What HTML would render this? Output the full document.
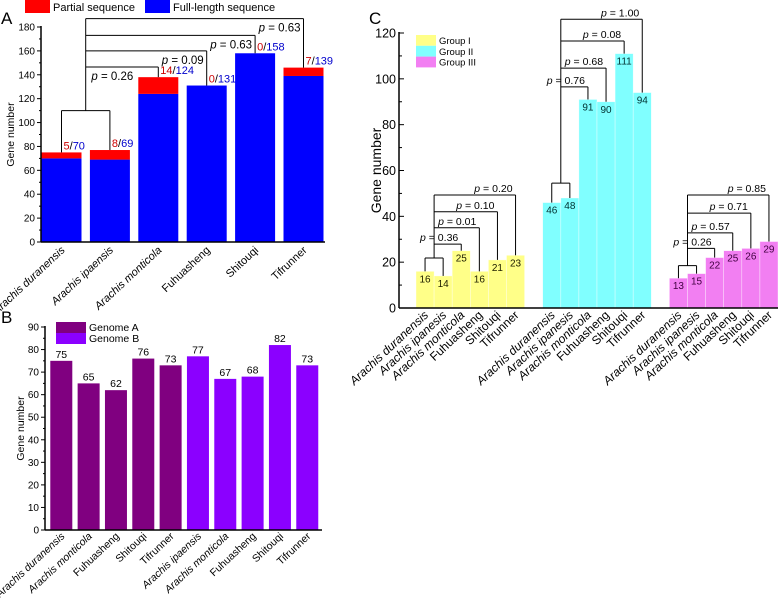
<!DOCTYPE html>
<html><head><meta charset="utf-8"><style>
html,body{margin:0;padding:0;background:#fff}
svg{display:block;font-family:"Liberation Sans",Arial,sans-serif}
</style></head><body>
<svg id="fig" width="778" height="600" viewBox="0 0 778 600" xmlns="http://www.w3.org/2000/svg"></svg>
<script>
// ---------- Panel A data ----------
const aCats = ["Arachis duranensis","Arachis ipaensis","Arachis monticola","Fuhuasheng","Shitouqi","Tifrunner"];
const aFull = [70,69,124,131,158,139];
const aPartial = [5,8,14,0,0,7];
const aTicks = [0,20,40,60,80,100,120,140,160,180];
const aPairVal = 110;
const aBracketVals = [146.5,160,173,187];
const aPLabels = ["p = 0.26","p = 0.09","p = 0.63","p = 0.63"];
// ---------- Panel B data ----------
const bCats = ["Arachis duranensis","Arachis monticola","Fuhuasheng","Shitouqi","Tifrunner","Arachis ipaensis","Arachis monticola","Fuhuasheng","Shitouqi","Tifrunner"];
const bVals = [75,65,62,76,73,77,67,68,82,73];
const bGenome = ["A","A","A","A","A","B","B","B","B","B"];
const bTicks = [0,10,20,30,40,50,60,70,80,90];
// ---------- Panel C data ----------
const cCats = ["Arachis duranensis","Arachis ipanesis","Arachis monticola","Fuhuasheng","Shitouqi","Tifrunner"];
const cGroup1 = [16,14,25,16,21,23];
const cGroup2 = [46,48,91,90,111,94];
const cGroup3 = [13,15,22,25,26,29];
const cTicks = [0,20,40,60,80,100,120];
const cPairVals = [21.8,54.5,18.5];
const cBrackets1 = [27.9,35,42,49.3];
const cBrackets2 = [96.5,104.7,116.5,126];
const cBrackets3 = [26,32.8,41.4,49.3];
const cP1 = ["p = 0.36","p = 0.01","p = 0.10","p = 0.20"];
const cP2 = ["p = 0.76","p = 0.68","p = 0.08","p = 1.00"];
const cP3 = ["p = 0.26","p = 0.57","p = 0.71","p = 0.85"];

const svg = document.getElementById('fig');
const NS = "http://www.w3.org/2000/svg";
function mk(tag, attrs, parent, text){
  const e = document.createElementNS(NS, tag);
  for (const k in attrs) e.setAttribute(k, attrs[k]);
  if (text !== undefined) e.textContent = text;
  (parent||svg).appendChild(e);
  return e;
}
function line(x1,y1,x2,y2,p,w){return mk('line',{x1,y1,x2,y2,stroke:'#000','stroke-width':w||1},p);}
function pText(x,y,str,p,size){
  const t = mk('text',{x,y,'text-anchor':'end','font-size':size},p);
  mk('tspan',{'font-style':'italic'},t,'p');
  mk('tspan',{},t,str.slice(1));
  return t;
}
function xLabel(x,y,str,p,size){
  const t = mk('text',{transform:`translate(${x},${y}) rotate(-43)`,'text-anchor':'end','font-size':size},p);
  if (str.startsWith('Arachis')) t.setAttribute('font-style','italic');
  t.textContent = str;
  return t;
}

// ================= Panel A =================
const gA = mk('g',{});


const aY = v => 242 - v*215/180;
const aX = i => 61.5 + i*48.4;
const aW = 40;
mk('text',{x:1,y:24,'font-size':17},gA,'A');
const la = mk('rect',{x:25,y:0,width:25,height:13,fill:'#ff0000'},gA);


mk('text',{x:53,y:11,'font-size':11},gA,'Partial sequence');
const lb = mk('rect',{x:145,y:0,width:25,height:13,fill:'#0000ff'},gA);


mk('text',{x:173,y:11,'font-size':11},gA,'Full-length sequence');
aCats.forEach((c,i)=>{
  const x = aX(i)-aW/2;
  const r1 = mk('rect',{x,y:aY(aFull[i]),width:aW,height:aY(0)-aY(aFull[i]),fill:'#0000ff'},gA);
  
  
  const tot = aFull[i]+aPartial[i];
  if (aPartial[i]>0){
    const r2 = mk('rect',{x,y:aY(tot),width:aW,height:aY(aFull[i])-aY(tot),fill:'#ff0000'},gA);
    
    
  }
  const t = mk('text',{x:aX(i)+2,y:aY(tot)-3,'font-size':11},gA);
  
  mk('tspan',{fill:'#cc0000'},t,String(aPartial[i]));
  mk('tspan',{fill:'#000'},t,'/');
  mk('tspan',{fill:'#0000cc'},t,String(aFull[i]));
  xLabel(aX(i)+4,251,c,gA,11);
});
line(41,aY(0),325,aY(0),gA,1.5);
line(41,aY(0),41,aY(180)-1,gA,1.5);
aTicks.forEach(v=>{
  line(37,aY(v),41,aY(v),gA);
  mk('text',{x:35,y:aY(v)+3.5,'text-anchor':'end','font-size':10},gA,String(v));
  if (v<180) line(39,aY(v+10),41,aY(v+10),gA);
});
mk('text',{transform:`translate(14,${aY(90)}) rotate(-90)`,'text-anchor':'middle','font-size':10.5},gA,'Gene number');
const aTot = aFull.map((f,i)=>f+aPartial[i]);
line(aX(0),aY(aTot[0]),aX(0),aY(aPairVal),gA);
line(aX(1),aY(aTot[1]),aX(1),aY(aPairVal),gA);
line(aX(0),aY(aPairVal),aX(1),aY(aPairVal),gA);
const aMid = (aX(0)+aX(1))/2;
line(aMid,aY(aPairVal),aMid,aY(aBracketVals[aBracketVals.length-1]),gA);
aBracketVals.forEach((v,k)=>{
  const i = k+2;
  line(aMid,aY(v),aX(i),aY(v),gA);
  line(aX(i),aY(v),aX(i),aY(aTot[i]),gA);
  pText(aX(i)-(k==0?25:3),aY(v)+13,aPLabels[k],gA,11.5);
});

// ================= Panel B =================
const gB = mk('g',{});


const bY = v => 530 - v*203/90;
const bX = i => 61.3 + i*27.33;
const bW = 22;
mk('text',{x:1,y:323,'font-size':17},gB,'B');
bCats.forEach((c,i)=>{
  const r = mk('rect',{x:bX(i)-bW/2,y:bY(bVals[i]),width:bW,height:bY(0)-bY(bVals[i]),fill:bGenome[i]=='A'?'#800080':'#8b00ff'},gB);
  
  
  mk('text',{x:bX(i),y:bY(bVals[i])-3,'text-anchor':'middle','font-size':10.5},gB,String(bVals[i]));
  xLabel(bX(i)+4,537,c,gB,10.5);
});
line(45,bY(0),322,bY(0),gB,1.5);
line(45,bY(0),45,bY(90)-1,gB,1.5);
bTicks.forEach(v=>{
  line(41,bY(v),45,bY(v),gB);
  mk('text',{x:39,y:bY(v)+3.5,'text-anchor':'end','font-size':10},gB,String(v));
  if (v<90) line(43,bY(v+5),45,bY(v+5),gB);
});
mk('text',{transform:`translate(24,${bY(45)}) rotate(-90)`,'text-anchor':'middle','font-size':10.5},gB,'Gene number');
const lgA = mk('rect',{x:56,y:322,width:30,height:11,fill:'#800080'},gB);


const lgB = mk('rect',{x:56,y:333,width:30,height:11,fill:'#8b00ff'},gB);


mk('text',{x:89,y:331,'font-size':10.5},gB,'Genome A');
mk('text',{x:89,y:342,'font-size':10.5},gB,'Genome B');

// ================= Panel C =================
const gC = mk('g',{});


const cY = v => 308 - v*275/120;
const cSlot = 18.1;
const cX = s => 416 + (s+0.5)*cSlot;
mk('text',{x:369,y:24,'font-size':17},gC,'C');
const groups = [cGroup1,cGroup2,cGroup3];
const gColors = ['#ffff88','#80ffff','#f27ff2'];
const gBr = [cBrackets1,cBrackets2,cBrackets3];
const gP = [cP1,cP2,cP3];
groups.forEach((vals,g)=>{
  vals.forEach((v,i)=>{
    const s = g*7+i;
    const r = mk('rect',{x:416+s*cSlot,y:cY(v),width:cSlot,height:cY(0)-cY(v),fill:gColors[g],stroke:'rgba(255,255,255,0.6)','stroke-width':0.6},gC);
    
    
    mk('text',{x:cX(s),y:cY(v)+11,'text-anchor':'middle','font-size':10,fill:g==2?'#400040':(g==1?'#003030':'#202000')},gC,String(v));
    xLabel(cX(s)+4,316,cCats[i],gC,12);
  });
  const x0 = cX(g*7), x1 = cX(g*7+1), pv = cPairVals[g];
  line(x0,cY(vals[0]),x0,cY(pv),gC);
  line(x1,cY(vals[1]),x1,cY(pv),gC);
  line(x0,cY(pv),x1,cY(pv),gC);
  const mid = (x0+x1)/2, br = gBr[g];
  line(mid,cY(pv),mid,cY(br[br.length-1]),gC);
  br.forEach((bv,k)=>{
    const i = k+2, xs = cX(g*7+i);
    line(mid,cY(bv),xs,cY(bv),gC);
    line(xs,cY(bv),xs,cY(vals[i]),gC);
    pText(xs-3,cY(bv)-3,gP[g][k],gC,10.5);
  });
});
line(399,cY(0),778,cY(0),gC,1.5);
line(399,cY(0),399,cY(120)-1,gC,1.5);
cTicks.forEach(v=>{
  line(399,cY(v),404,cY(v),gC);
  mk('text',{x:396,y:cY(v)+4.5,'text-anchor':'end','font-size':12.5},gC,String(v));
  if (v<120) line(399,cY(v+10),402,cY(v+10),gC);
});
mk('text',{transform:`translate(381,${cY(60)}) rotate(-90)`,'text-anchor':'middle','font-size':14},gC,'Gene number');
['Group I','Group II','Group III'].forEach((n,k)=>{
  const r = mk('rect',{x:416,y:35+k*10.8,width:20,height:10.8,fill:gColors[k]},gC);
  
  
  mk('text',{x:439,y:44+k*10.8,'font-size':9.5},gC,n);
});
</script>
</body></html>
